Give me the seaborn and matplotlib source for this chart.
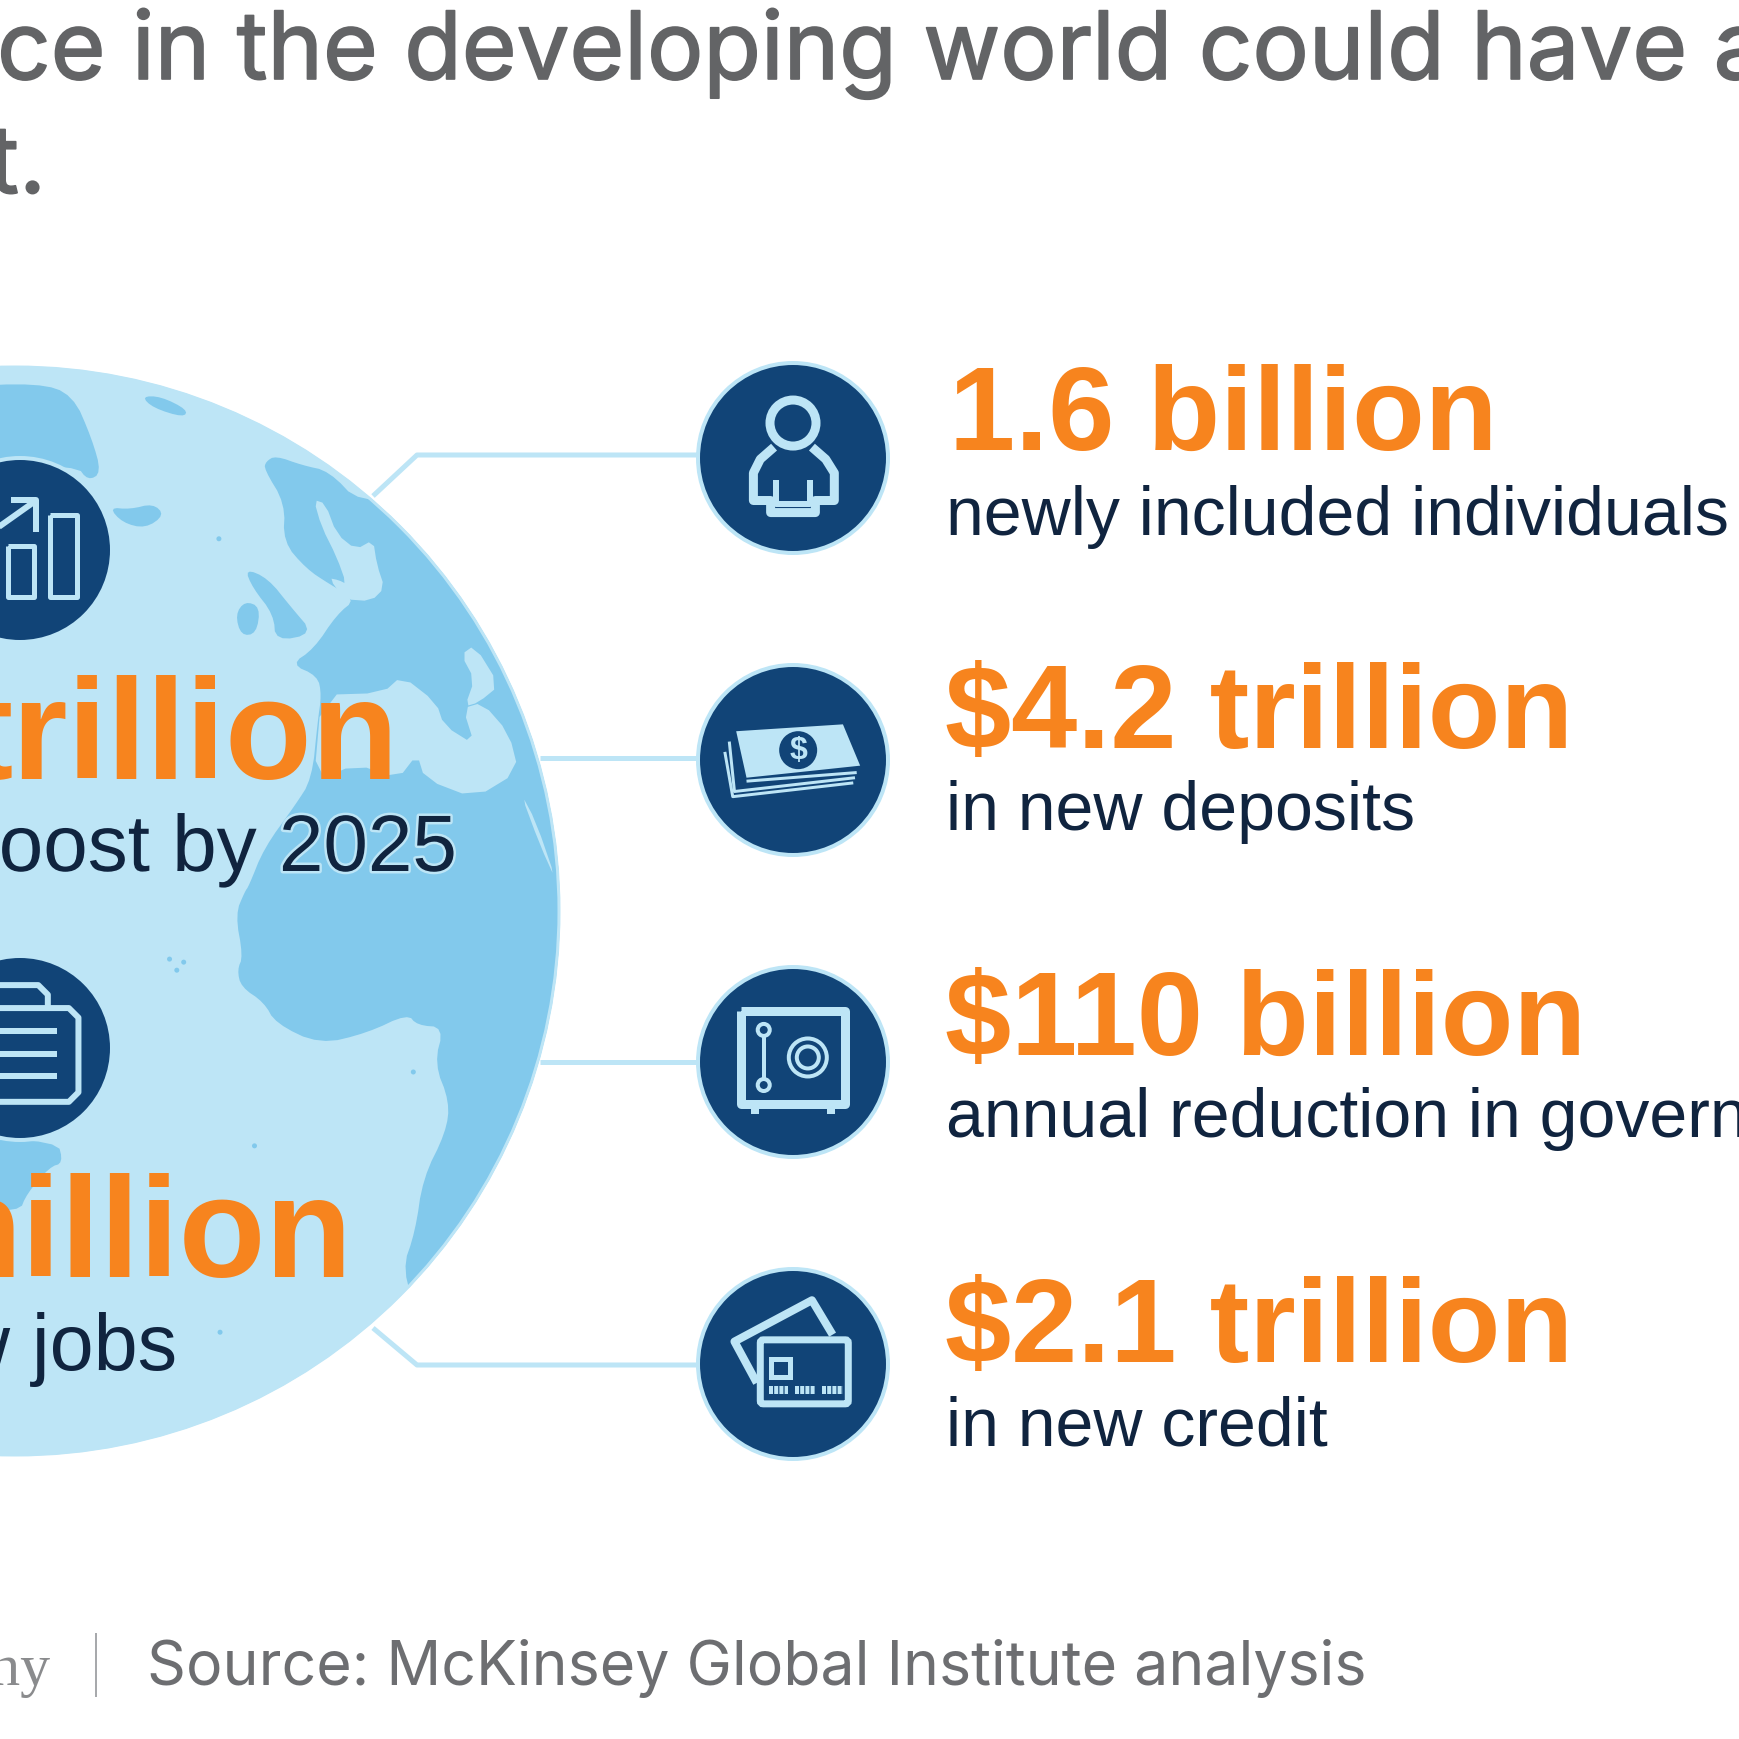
import matplotlib
matplotlib.use("Agg")
import matplotlib.pyplot as plt
import matplotlib.patheffects as pe
from matplotlib.patches import Circle, Polygon, Rectangle, FancyBboxPatch
import pandas as pd
import seaborn as sns

# chart text
title_lines = ["ce in the developing world could have a", "t."]
left_values = ["trillion", "million"]
left_labels = ["oost by 2025", "new jobs"]
right_values = ["1.6 billion", "$4.2 trillion", "$110 billion", "$2.1 trillion"]
right_labels = ["newly included individuals", "in new deposits",
                "annual reduction in government spending", "in new credit"]
source_text = "Source: McKinsey Global Institute analysis"
brand_text = "McKinsey&Company"

# layout, in pixels of the 1740 canvas
right_badge_y = [459, 761, 1063, 1365]
right_value_base = [450, 748, 1055, 1362]
right_label_base = [535, 830, 1137, 1446]
right_value_x = [949, 945, 945, 945]
left_badge_y = [551, 1049]

NAVY = "#114477"
PALE = "#BDE5F6"
LAND = "#82C9EC"
ORANGE = "#F7841E"
INK = "#10243F"
GREY = "#636466"

sns.set_theme(style="white")
plt.rcParams["font.family"] = ["Liberation Sans", "DejaVu Sans"]

fig = plt.figure(figsize=(17.4, 17.4), dpi=100, facecolor="white")
ax = fig.add_axes([0, 0, 1, 1])


def px(size):
    return size * 0.72


# zoom crop coordinates to canvas pixels
def z1(pts):
    return [(x / 2.613, 340 + y / 2.613) for x, y in pts]


def z2(pts):
    return [(x / 2.613, 900 + y / 2.613) for x, y in pts]


def z3(pts):
    return [(793 + (x - 340) / 2.904, 350 + y / 2.904) for x, y in pts]


def z4(pts):
    return [(793 + (x - 340) / 2.904, 950 + y / 2.904) for x, y in pts]


# corner cutting so the coastlines do not look like straight segments
def smooth(pts, rounds=2):
    for _ in range(rounds):
        out = []
        for i in range(len(pts)):
            x0, y0 = pts[i]
            x1, y1 = pts[(i + 1) % len(pts)]
            out.append((0.75 * x0 + 0.25 * x1, 0.75 * y0 + 0.25 * y1))
            out.append((0.25 * x0 + 0.75 * x1, 0.25 * y0 + 0.75 * y1))
        pts = out
    return pts


def line(pts, lw=8, color=PALE, z=7, **kw):
    ax.plot([p[0] for p in pts], [p[1] for p in pts], color=color, lw=px(lw), zorder=z,
            solid_joinstyle="round", solid_capstyle="butt", **kw)


def ring(xy, r, lw=8, color=PALE, z=7):
    ax.add_patch(Circle(xy, r, fc="none", ec=color, lw=px(lw), zorder=z))


# globe
globe = Circle((15, 912), 545, fc=PALE, ec="none", zorder=1)
ax.add_patch(globe)

land_main = z1([(695, 320), (720, 305), (790, 330), (860, 345), (940, 430), (1100, 400),
                (1700, 800), (1700, 1600)]) + z2([(1600, 700), (1100, 1100), (1050, 970), (1085, 870),
                (1105, 730), (1165, 610), (1175, 530), (1135, 430), (1160, 335), (1090, 330), (1065, 300),
                (960, 350), (835, 380), (720, 325), (690, 270), (630, 230), (620, 185), (635, 150),
                (615, 40), (640, -20)]) + z1([(650, 1430), (690, 1330), (770, 1220), (815, 1150),
                (830, 1000), (840, 930), (830, 880), (760, 850), (820, 810), (880, 720), (930, 680),
                (860, 640), (800, 600), (740, 530), (745, 430), (690, 340)])
light_seas = [
    z1([(820, 420), (850, 430), (880, 510), (930, 550), (975, 525), (985, 590), (1005, 650), (970, 685),
        (900, 680), (860, 625), (885, 630), (905, 640), (880, 570), (840, 490)]),
    z1([(840, 930), (1000, 925), (1050, 880), (1140, 950), (1160, 1010), (1240, 1060), (1210, 965),
        (1260, 950), (1330, 1030), (1355, 1130), (1240, 1200), (1110, 1150), (1090, 1085), (1040, 1150),
        (930, 1110), (820, 1160)]),
    z1([(1205, 825), (1240, 800), (1305, 905), (1250, 950), (1215, 960), (1240, 890)]),
    z1([(1360, 1185), (1400, 1260), (1455, 1420), (1410, 1320)]),
]
land_other = [
    z1([(-120, 125), (100, 115), (190, 145), (240, 260), (265, 350), (230, 370), (200, 330), (-120, 330)]),
    z1([(285, 440), (340, 445), (400, 430), (430, 460), (380, 495), (320, 480)]),
    z1([(370, 150), (420, 150), (490, 185), (480, 205), (400, 180)]),
    z1([(640, 600), (700, 625), (760, 700), (820, 770), (720, 790), (715, 720), (660, 650)]),
    z1([(615, 720), (640, 685), (680, 700), (670, 770), (630, 775)]),
    z2([(-120, 630), (150, 630), (165, 690), (130, 700), (70, 770), (50, 820), (-120, 800)]),
]
for pts in [land_main] + land_other:
    p = Polygon(smooth(pts), closed=True, fc=LAND, ec="none", zorder=2)
    ax.add_patch(p)
    p.set_clip_path(globe)
for pts in light_seas:
    p = Polygon(smooth(pts, 1), closed=True, fc=PALE, ec="none", zorder=3)
    ax.add_patch(p)
    p.set_clip_path(globe)
# small islands
for xy in z2([(443, 157), (480, 165), (462, 186), (665, 645), (575, 1132), (1080, 452)]) + z1([(572, 522)]):
    ax.add_patch(Circle(xy, 2.5, fc=LAND, ec="none", zorder=2))
# pale rim of the globe
ax.add_patch(Circle((15, 912), 544, fc="none", ec=PALE, lw=px(3), zorder=4))

# connectors
line([(373, 497), (417, 456), (705, 456)], lw=5, z=0)
line([(540, 759), (705, 759)], lw=5, z=0)
line([(540, 1063), (705, 1063)], lw=5, z=0)
line([(373, 1329), (417, 1366), (705, 1366)], lw=5, z=0)

# badges
badges = pd.DataFrame({
    "x": [793] * len(right_badge_y) + [20] * len(left_badge_y),
    "y": right_badge_y + left_badge_y,
    "r": [95] * len(right_badge_y) + [92] * len(left_badge_y),
})
sns.scatterplot(data=badges, x="x", y="y", s=[(2 * px(r)) ** 2 for r in badges["r"]], color=NAVY,
                edgecolor=PALE, linewidth=px(4), legend=False, zorder=5, ax=ax)

# person icon
ring(z3([(340, 215)])[0], 23, lw=9)
line(z3([(285, 285), (245, 320), (225, 360), (225, 440), (275, 440), (275, 475), (405, 475), (405, 440),
         (460, 440), (460, 360), (435, 320), (395, 285)]), lw=9)
line(z3([(290, 380), (290, 450), (390, 450), (390, 380)]), lw=6)

# money icon
ax.add_patch(Polygon(z3([(175, 1110), (485, 1090), (535, 1210), (205, 1245)]), fc=PALE, ec="none", zorder=7))
ax.add_patch(Circle(z3([(355, 1165)])[0], 19, fc=NAVY, ec="none", zorder=8))
ax.text(*z3([(355, 1165)])[0], "$", color=PALE, fontsize=px(32), fontweight="bold", ha="center",
        va="center", zorder=9)
line(z3([(205, 1255), (525, 1230)]), lw=3)
line(z3([(155, 1140), (170, 1285), (520, 1245)]), lw=3)
line(z3([(142, 1170), (165, 1300), (515, 1260)]), lw=3)

# safe icon
line(z4([(190, 180), (490, 180), (490, 450), (190, 450), (190, 180)]), lw=9)
line(z4([(230, 450), (230, 480)]), lw=8)
line(z4([(450, 450), (450, 480)]), lw=8)
line(z4([(255, 235), (255, 395)]), lw=4)
ax.add_patch(Circle(z4([(255, 235)])[0], 6, fc=NAVY, ec=PALE, lw=px(4), zorder=8))
ax.add_patch(Circle(z4([(255, 395)])[0], 6, fc=NAVY, ec=PALE, lw=px(4), zorder=8))
ring(z4([(383, 315)])[0], 19, lw=4)
ring(z4([(383, 315)])[0], 11, lw=4)

# card icon
line(z4([(235, 1260), (170, 1140), (395, 1020), (455, 1120)]), lw=8)
ax.add_patch(FancyBboxPatch(z4([(245, 1135)])[0], 88, 64, boxstyle="round,pad=0,rounding_size=3",
                            fc=NAVY, ec=PALE, lw=px(7), zorder=8))
ax.add_patch(Rectangle(z4([(275, 1190)])[0], 19, 18, fc=NAVY, ec=PALE, lw=px(5), zorder=9))
for x0, x1 in [(270, 325), (345, 405), (425, 485)]:
    line(z4([(x0, 1282), (x1, 1282)]), lw=8, z=9, dashes=(0.5, 0.15))

# chart icon
line(z1([(20, 540), (90, 540), (90, 675), (20, 675), (20, 540)]), lw=5)
line(z1([(130, 460), (200, 460), (200, 675), (130, 675), (130, 460)]), lw=5)
line(z1([(-30, 510), (90, 425)]), lw=6)
line(z1([(30, 420), (95, 420), (95, 505)]), lw=6)

# briefcase icon
line(z2([(-50, 285), (180, 285), (205, 310), (205, 505), (180, 530), (-50, 530)]), lw=6)
line(z2([(-50, 225), (100, 225), (125, 250), (125, 280)]), lw=6)
for y in [345, 405, 462]:
    line(z2([(-10, y), (150, y)]), lw=6)

# title
heavier = [pe.withStroke(linewidth=1.2, foreground=GREY)]
for txt, x, base, ha in [(title_lines[0], -3, 80, "left"), (title_lines[1], 46, 194, "right")]:
    ax.text(x, base, txt, color=GREY, fontsize=px(94), family="Inter", ha=ha, va="baseline", zorder=10,
            path_effects=heavier)

# left figures
halo = [pe.withStroke(linewidth=px(5), foreground=PALE)]
ax.text(399, 779, left_values[0], color=ORANGE, fontsize=px(142), fontweight="bold", ha="right",
        va="baseline", zorder=10)
ax.text(457, 872, left_labels[0], color=INK, fontsize=px(80), ha="right", va="baseline", zorder=10,
        path_effects=halo)
ax.text(352, 1277, left_values[1], color=ORANGE, fontsize=px(142), fontweight="bold", ha="right",
        va="baseline", zorder=10)
ax.text(177, 1370, left_labels[1], color=INK, fontsize=px(79), ha="right", va="baseline", zorder=10)

# right figures
for i in range(len(right_values)):
    ax.text(right_value_x[i], right_value_base[i], right_values[i], color=ORANGE, fontsize=px(119),
            fontweight="bold", ha="left", va="baseline", zorder=10)
    ax.text(946, right_label_base[i], right_labels[i], color=INK, fontsize=px(68), ha="left",
            va="baseline", zorder=10)

# footer
ax.text(50, 1685, brand_text, color="#8A8B8D", fontsize=px(60), family="Liberation Serif", ha="right",
        va="baseline")
line([(96, 1634), (96, 1698)], lw=2, color="#A7A9AC", z=2)
ax.text(147, 1685, source_text, color="#6D6E71", fontsize=px(60.8), family="Inter", ha="left", va="baseline")

ax.set_xlim(0, 1740)
ax.set_ylim(1740, 0)
ax.set_xlabel("")
ax.set_ylabel("")
ax.axis("off")

plt.savefig("out.png", dpi=100)
